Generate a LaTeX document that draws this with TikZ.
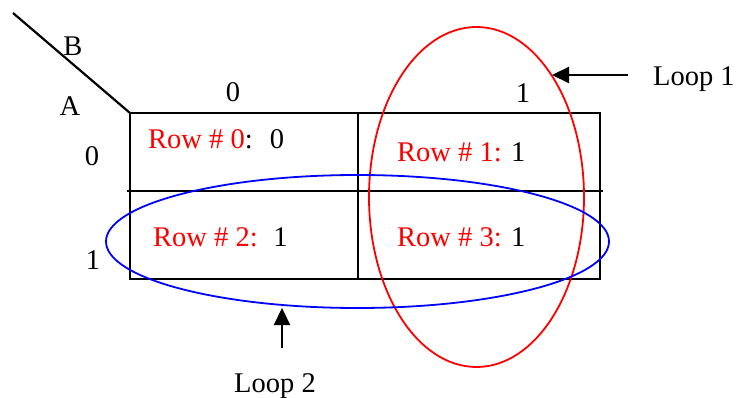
\documentclass[tikz,border=0pt]{standalone}
\usepackage{fontspec}
\setmainfont{Liberation Serif}
\usetikzlibrary{arrows.meta}
\begin{document}
\begin{tikzpicture}[x=1pt,y=-1pt,
  lbl/.style={inner sep=0pt,anchor=base,font=\fontsize{28.5}{30}\selectfont},
  cellt/.style={lbl,anchor=base west},
  grid/.style={line width=2.2pt,black},
  ptr/.style={line width=2.2pt,-{Triangle[length=17pt,width=16pt]}}]
\useasboundingbox (0,0) rectangle (736,398);
% grid
\coordinate (tl) at (130,113);
\coordinate (br) at (600,279);
\draw[grid] (tl) rectangle (br);
\draw[grid] (358,113) -- (358,279);
\draw[grid] (127,191) -- (603,191);
\coordinate (d0) at (13,13);
\draw[grid] (d0) -- (tl);
% labels
\node[lbl] (B) at (73,56) {B};
\node[lbl] (A) at (70,116) {A};
\node[lbl] (r0) at (92,166) {0};
\node[lbl] (r1) at (93,269) {1};
\node[lbl] (c0) at (233,102) {0};
\node[lbl] (c1) at (523,103) {1};
% cells
\node[cellt] (cell0) at (148,149) {\textcolor{red}{Row \# 0}:\hspace{0.6em}0};
\node[cellt] (cell1) at (397,162) {\textcolor{red}{Row \# 1:} 1};
\node[cellt] (cell2) at (153,246) {\textcolor{red}{Row \# 2:}\hspace{0.55em}1};
\node[cellt] (cell3) at (397,246) {\textcolor{red}{Row \# 3:} 1};
% loops
\draw[red,line width=1.8pt] (476.5,197) ellipse [x radius=107.5, y radius=170];
\draw[blue,line width=1.8pt] (357.5,241.5) ellipse [x radius=251.5, y radius=66.5];
% pointers
\coordinate (t1) at (552,75);
\coordinate (s1) at (628,75);
\coordinate (t2) at (282,308);
\coordinate (s2) at (282,348);
\draw[ptr] (s1) -- (t1);
\draw[ptr] (s2) -- (t2);
\node[lbl,anchor=base west] (L1) at (653,86) {Loop 1};
\node[lbl] (L2) at (275,392) {Loop 2};
\end{tikzpicture}
\end{document}
